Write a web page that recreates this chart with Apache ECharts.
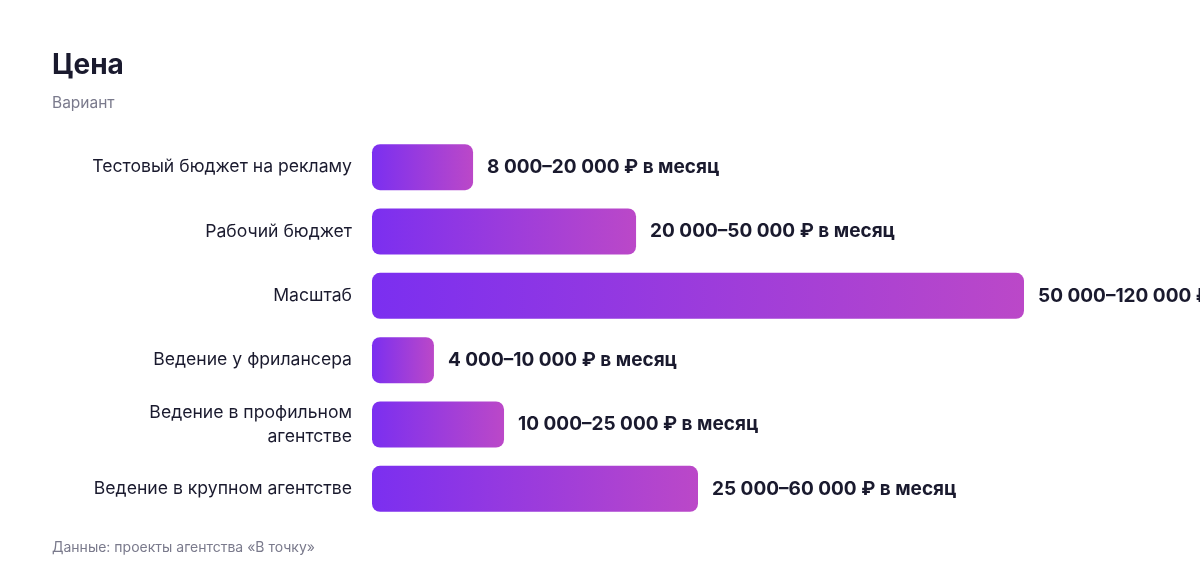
<!DOCTYPE html>
<html><head><meta charset="utf-8">
<script src="https://cdn.jsdelivr.net/npm/echarts@6/dist/echarts.min.js"></script>
<style>html,body{margin:0;padding:0;background:#fff}#c{width:1200px;height:584px}</style>
</head><body><div id="c"></div>
<script>
const categories = ['Тестовый бюджет на рекламу','Рабочий бюджет','Масштаб','Ведение у фрилансера','Ведение в профильном\nагентстве','Ведение в крупном агентстве'];
const values = [18600, 48600, 120000, 11400, 24300, 60000];
const valueLabels = ['8 000–20 000 ₽ в месяц','20 000–50 000 ₽ в месяц','50 000–120 000 ₽ в месяц','4 000–10 000 ₽ в месяц','10 000–25 000 ₽ в месяц','25 000–60 000 ₽ в месяц'];
const FONT = 'Inter, "Noto Sans", sans-serif';
const chart = echarts.init(document.getElementById('c'));
chart.setOption({
  backgroundColor: '#fff',
  animation: false,
  title: [
    {text: 'Цена', left: 52, top: 52, padding: 0, textStyle: {fontFamily: FONT, fontSize: 28, fontWeight: 'bold', color: '#1a1a2e'}},
    {text: 'Вариант', left: 52, top: 95, padding: 0, textStyle: {fontFamily: FONT, fontSize: 15.5, fontWeight: 'normal', color: '#7a7a8c'}},
    {text: 'Данные: проекты агентства «В точку»', left: 52, top: 541, padding: 0, textStyle: {fontFamily: FONT, fontSize: 14, fontWeight: 'normal', color: '#7a7a8c'}}
  ],
  grid: {left: 372, top: 135, width: 652, height: 386, containLabel: false},
  xAxis: {type: 'value', min: 0, max: 120000, show: false},
  yAxis: {
    type: 'category', data: categories, inverse: true,
    axisLine: {show: false}, axisTick: {show: false}, splitLine: {show: false},
    axisLabel: {margin: 20, fontFamily: FONT, fontSize: 17.6, color: '#1a1a2e', lineHeight: 24, align: 'right'}
  },
  series: [{
    type: 'bar', data: values, barWidth: 46, clip: false,
    itemStyle: {
      borderRadius: 8,
      color: new echarts.graphic.LinearGradient(0, 0, 1, 0, [
        {offset: 0, color: '#7b2ff0'}, {offset: 1, color: '#bb48c8'}
      ])
    },
    label: {
      show: true, position: 'right', distance: 14,
      fontFamily: FONT, fontSize: 19, fontWeight: 'bold', color: '#1a1a2e',
      formatter: p => valueLabels[p.dataIndex]
    }
  }]
});
</script></body></html>
